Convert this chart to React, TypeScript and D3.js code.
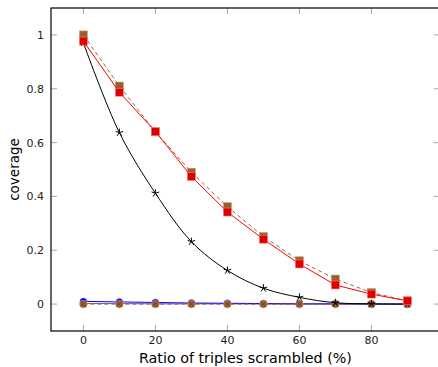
import React from "react";
import * as d3 from "d3";

const xs = [0, 10, 20, 30, 40, 50, 60, 70, 80, 90];
const brownSq = [1.0, 0.81, 0.64, 0.49, 0.362, 0.251, 0.161, 0.093, 0.043, 0.012];
const redSq = [0.977, 0.787, 0.641, 0.474, 0.342, 0.241, 0.149, 0.071, 0.037, 0.012];
const blackStar = [0.97, 0.637, 0.412, 0.232, 0.125, 0.059, 0.025, 0.005, 0.001, 0.0];
const blueCirc = [0.01, 0.008, 0.006, 0.004, 0.003, 0.002, 0.001, 0.001, 0.0, 0.0];
const brownCirc = [0, 0, 0, 0, 0, 0, 0, 0, 0, 0];
const purpleLine = [0.002, 0.002, 0.001, 0.001, 0.001, 0.0, 0.0, 0.0, 0.0, 0.0];
const xTicks = [0, 20, 40, 60, 80];
const yTicks = [0, 0.2, 0.4, 0.6, 0.8, 1];

const W = 438, H = 367;
const L = 51, R = 439.8, T = 8, B = 331;

function star(cx: number, cy: number, r: number) {
  const parts: string[] = [];
  for (let i = 0; i < 5; i++) {
    const a = (-90 + i * 72) * Math.PI / 180;
    parts.push(`M${cx},${cy}L${cx + r * Math.cos(a)},${cy + r * Math.sin(a)}`);
  }
  return parts.join("");
}

export default function App() {
  const x = d3.scaleLinear().domain([-9, 99]).range([L, R]);
  const y = d3.scaleLinear().domain([-0.1, 1.1]).range([B, T]);
  const line = d3.line<number>().x((_, i) => x(xs[i])).y((d) => y(d));
  const smooth = d3.line<number>().x((_, i) => x(xs[i])).y((d) => y(d)).curve(d3.curveCatmullRom);
  const font = "DejaVu Sans, sans-serif";
  return (
    <svg width={W} height={H} style={{ position: "absolute", left: 0, top: 0 }} fontFamily={font}>
      <defs>
        <clipPath id="c"><rect x={L} y={T} width={R - L} height={B - T} /></clipPath>
      </defs>
      {xTicks.map((t) => (
        <g key={"x" + t} stroke="#aaa" strokeWidth={1}>
          <line x1={x(t)} x2={x(t)} y1={B} y2={B - 6} />
          <line x1={x(t)} x2={x(t)} y1={T} y2={T + 6} />
        </g>
      ))}
      {yTicks.map((t) => (
        <g key={"y" + t} stroke="#aaa" strokeWidth={1}>
          <line x1={L} x2={L + 6} y1={y(t)} y2={y(t)} />
          <line x1={R} x2={R - 6} y1={y(t)} y2={y(t)} />
        </g>
      ))}
      <g clipPath="url(#c)">
        <path d={line(purpleLine) || ""} fill="none" stroke="#8a5a9a" strokeWidth={1} />
        <path d={line(blueCirc) || ""} fill="none" stroke="#0000ff" strokeWidth={1} />
        {blueCirc.map((v, i) => (
          <circle key={"bc" + i} cx={x(xs[i])} cy={y(v)} r={3.5} fill="#0000ff" stroke="#8888ff" strokeWidth={0.6} />
        ))}
        <path d={line(brownCirc) || ""} fill="none" stroke="#9a5a2a" strokeWidth={1} strokeDasharray="4 3" />
        {brownCirc.map((v, i) => (
          <g key={"brc" + i}>
            <circle cx={x(xs[i])} cy={y(v)} r={3.8} fill="#9a6030" stroke="#c09070" strokeWidth={0.6} />
            <path d={`M${x(xs[i]) - 2.5},${y(v) - 2.5}L${x(xs[i]) + 2.5},${y(v) + 2.5}M${x(xs[i]) - 2.5},${y(v) + 2.5}L${x(xs[i]) + 2.5},${y(v) - 2.5}`} stroke="#6a3a18" strokeWidth={0.8} />
          </g>
        ))}
        <path d={smooth(blackStar) || ""} fill="none" stroke="#000" strokeWidth={1} />
        {blackStar.map((v, i) => (
          <path key={"st" + i} d={star(x(xs[i]), y(v), 4)} stroke="#000" strokeWidth={1} fill="none" />
        ))}
        <path d={line(brownSq) || ""} fill="none" stroke="#9a6a40" strokeWidth={1} strokeDasharray="4 3" />
        {brownSq.map((v, i) => (
          <rect key={"bs" + i} x={x(xs[i]) - 4} y={y(v) - 4} width={8} height={8} fill="#9a5f2a" stroke="#c8a080" strokeWidth={0.6} />
        ))}
        <path d={line(redSq) || ""} fill="none" stroke="#ff0000" strokeWidth={1} />
        {redSq.map((v, i) => (
          <rect key={"rs" + i} x={x(xs[i]) - 4} y={y(v) - 4} width={8} height={8} fill="#dd0000" stroke="#ff8080" strokeWidth={0.6} />
        ))}
      </g>
      <rect x={L} y={T} width={R - L} height={B - T} fill="none" stroke="#000" strokeWidth={1.2} />
      {xTicks.map((t) => (
        <text key={"xl" + t} x={x(t)} y={B + 12.5} textAnchor="middle" fontSize={11} fill="#222">{t}</text>
      ))}
      {yTicks.map((t) => (
        <text key={"yl" + t} x={L - 7} y={y(t) + 4} textAnchor="end" fontSize={11} fill="#222">{String(t)}</text>
      ))}
      <text x={x(45)} y={363} textAnchor="middle" fontSize={14.3} fill="#000">Ratio of triples scrambled (%)</text>
      <text transform={`translate(19,${(T + B) / 2}) rotate(-90)`} textAnchor="middle" fontSize={13.5} fill="#000">coverage</text>
    </svg>
  );
}
